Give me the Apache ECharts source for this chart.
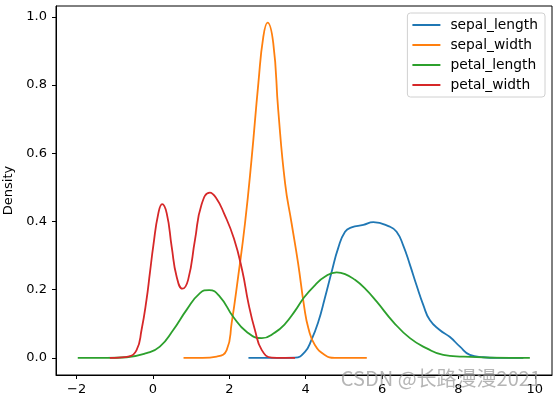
<!DOCTYPE html>
<html>
<head>
<meta charset="utf-8">
<script src="https://cdn.jsdelivr.net/npm/echarts@6/dist/echarts.min.js"></script>
<style>
  html, body { margin: 0; padding: 0; background: #fff; }
  #kdeChart { width: 558px; height: 399px; }
</style>
</head>
<body>
<div id="kdeChart"></div>
<script>
// density curves
var sepalLengthX = [2.5, 3.2, 3.72, 3.98, 4.15, 4.33, 4.50, 4.68, 4.85, 5.03, 5.20, 5.51, 5.77, 6.20, 6.38, 6.55, 6.73, 6.90, 7.08, 7.25, 7.51, 7.77, 8.04, 8.30, 8.65, 9.0, 9.7];
var sepalLengthY = [0, 0, 0.001, 0.018, 0.053, 0.106, 0.175, 0.253, 0.322, 0.370, 0.383, 0.390, 0.398, 0.385, 0.370, 0.331, 0.273, 0.214, 0.155, 0.111, 0.082, 0.062, 0.033, 0.009, 0.002, 0, 0];

var sepalWidthX = [0.8, 1.3, 1.67, 1.93, 2.06, 2.23, 2.41, 2.58, 2.76, 2.89, 3.00, 3.15, 3.28, 3.46, 3.63, 3.80, 3.96, 4.07, 4.24, 4.50, 4.76, 5.2, 5.6];
var sepalWidthY = [0, 0, 0.004, 0.023, 0.102, 0.238, 0.395, 0.581, 0.806, 0.942, 0.983, 0.923, 0.727, 0.512, 0.395, 0.278, 0.150, 0.087, 0.038, 0.009, 0, 0, 0];

var petalLengthX = [-1.97, -1.2, -0.69, -0.17, 0.18, 0.53, 0.88, 1.23, 1.47, 1.75, 2.10, 2.45, 2.85, 3.20, 3.46, 3.72, 3.96, 4.24, 4.50, 4.81, 5.03, 5.29, 5.55, 5.86, 6.29, 6.73, 7.17, 7.60, 8.12, 8.82, 9.87];
var petalLengthY = [0, 0, 0.002, 0.014, 0.033, 0.082, 0.141, 0.190, 0.199, 0.180, 0.121, 0.077, 0.058, 0.075, 0.100, 0.138, 0.178, 0.213, 0.238, 0.251, 0.246, 0.229, 0.204, 0.165, 0.106, 0.058, 0.028, 0.009, 0.004, 0.001, 0];

var petalWidthX = [-1.13, -0.9, -0.65, -0.43, -0.30, -0.17, -0.08, 0.01, 0.14, 0.24, 0.36, 0.49, 0.62, 0.77, 0.92, 1.10, 1.27, 1.49, 1.65, 1.86, 2.12, 2.34, 2.50, 2.67, 2.85, 3.11, 3.4, 3.72];
var petalWidthY = [0, 0.001, 0.004, 0.023, 0.082, 0.170, 0.250, 0.330, 0.424, 0.451, 0.424, 0.326, 0.238, 0.203, 0.229, 0.346, 0.449, 0.485, 0.470, 0.424, 0.350, 0.255, 0.160, 0.082, 0.023, 0.001, 0, 0];

var seriesNames = ['sepal_length', 'sepal_width', 'petal_length', 'petal_width'];
var seriesColors = ['#1f77b4', '#ff7f0e', '#2ca02c', '#d62728'];
var xTicks = [-2, 0, 2, 4, 6, 8, 10];
var yTicks = [0, 0.2, 0.4, 0.6, 0.8, 1.0];

function pairs(xs, ys) {
  return xs.map(function (x, i) { return [x, ys[i]]; });
}

var curves = [
  pairs(sepalLengthX, sepalLengthY),
  pairs(sepalWidthX, sepalWidthY),
  pairs(petalLengthX, petalLengthY),
  pairs(petalWidthX, petalWidthY),
];

var labelFont = 'DejaVu Sans';
var myChart = echarts.init(document.getElementById('kdeChart'));
var option = {
  animation: false,
  grid: {
    left: 56,
    right: 6,
    top: 6,
    bottom: 24,
    outerBoundsMode: 'none',
    show: true,
    borderColor: '#000',
    borderWidth: 1,
  },
  legend: {
    orient: 'vertical',
    right: 13,
    top: 13,
    icon: 'rect',
    itemWidth: 28,
    itemHeight: 2,
    itemGap: 6,
    padding: [5, 7, 5, 5],
    backgroundColor: 'rgba(255,255,255,0.8)',
    borderColor: '#d0d0d0',
    borderWidth: 1,
    borderRadius: 3,
    textStyle: { fontFamily: labelFont, fontSize: 13.8, color: '#000', padding: [0, 0, 0, 5] },
    data: seriesNames,
  },
  xAxis: {
    type: 'value',
    min: -2.54,
    max: 10.45,
    splitLine: { show: false },
    axisLine: { onZero: false, lineStyle: { color: '#000', width: 1 } },
    axisTick: { length: 4, customValues: xTicks, lineStyle: { color: '#000' } },
    axisLabel: {
      customValues: xTicks,
      margin: 8,
      fontFamily: labelFont,
      fontSize: 13,
      color: '#000',
      formatter: function (v) {
        return v < 0 ? '\u2212' + Math.abs(v) : String(v);
      },
    },
  },
  yAxis: {
    type: 'value',
    min: -0.05,
    max: 1.032,
    name: 'Density',
    nameLocation: 'middle',
    nameGap: 34,
    nameTextStyle: { fontFamily: labelFont, fontSize: 13, color: '#000' },
    splitLine: { show: false },
    axisLine: { show: true, onZero: false, lineStyle: { color: '#000', width: 1 } },
    axisTick: { show: true, length: 4, customValues: yTicks, lineStyle: { color: '#000' } },
    axisLabel: {
      customValues: yTicks,
      margin: 9,
      fontFamily: labelFont,
      fontSize: 13,
      color: '#000',
      formatter: function (v) { return v.toFixed(1); },
    },
  },
  series: seriesNames.map(function (name, i) {
    return {
      name: name,
      type: 'line',
      data: curves[i],
      smooth: 0.5,
      showSymbol: false,
      color: seriesColors[i],
      lineStyle: { width: 1.8, color: seriesColors[i] },
    };
  }),
  graphic: [
    {
      type: 'text',
      right: 17,
      top: 368,
      z: 100,
      style: {
        text: 'CSDN @长路漫漫2021',
        font: '20px "Noto Sans CJK SC"',
        fill: 'rgba(150,150,150,0.7)',
      },
    },
  ],
};

option && myChart.setOption(option);
</script>
</body>
</html>
